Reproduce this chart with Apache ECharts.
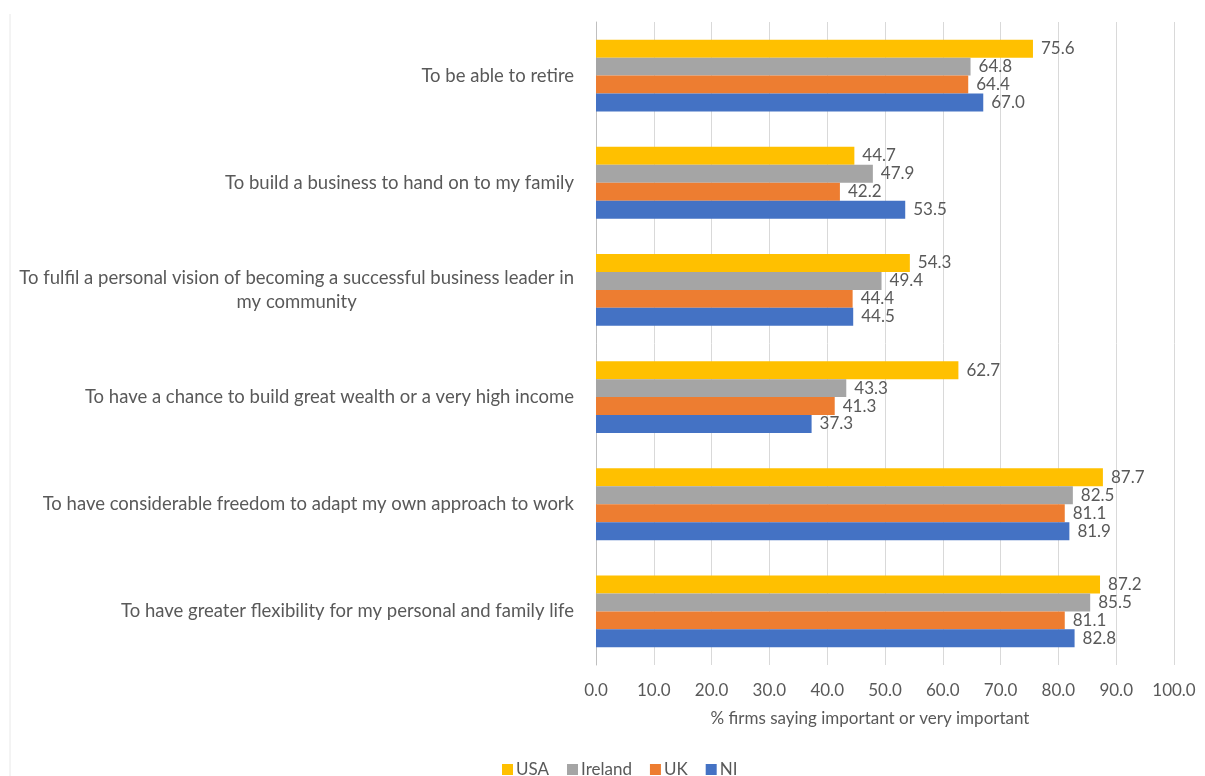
<!DOCTYPE html>
<html>
<head>
<meta charset="utf-8">
<script src="https://cdn.jsdelivr.net/npm/echarts@6/dist/echarts.min.js"></script>
<style>html,body{margin:0;padding:0;background:#fff}#c{width:1205px;height:776px}</style>
</head>
<body>
<div id="c"></div>
<script>
const categories = [
  "To be able to retire",
  "To build a business to hand on to my family",
  "To fulfil a personal vision of becoming a successful business leader in\nmy community",
  "To have a chance to build great wealth or a very high income",
  "To have considerable freedom to adapt my own approach to work",
  "To have greater flexibility for my personal and family life"
];
const seriesNames = ["USA", "Ireland", "UK", "NI"];
const usa     = [75.6, 44.7, 54.3, 62.7, 87.7, 87.2];
const ireland = [64.8, 47.9, 49.4, 43.3, 82.5, 85.5];
const uk      = [64.4, 42.2, 44.4, 41.3, 81.1, 81.1];
const ni      = [67.0, 53.5, 44.5, 37.3, 81.9, 82.8];
const xTicks = [0, 10, 20, 30, 40, 50, 60, 70, 80, 90, 100];
const axisTitle = "% firms saying important or very important";

const colors = ["#FFC000", "#A5A5A5", "#ED7D31", "#4472C4"];
const txt = "#595959";
const FONT = "Lato";

const chart = echarts.init(document.getElementById('c'));
const data = [usa, ireland, uk, ni];
const series = seriesNames.map((n, i) => ({
  name: n,
  type: 'bar',
  data: data[i],
  barGap: '0%',
  barCategoryGap: '33%',
  itemStyle: { color: colors[i] },
  label: {
    show: true, position: 'right', distance: 8,
    color: txt, fontFamily: FONT, fontSize: 17,
    formatter: p => p.value.toFixed(1)
  }
}));

chart.setOption({
  animation: false,
  textStyle: { fontFamily: FONT },
  grid: { left: 596, right: 31, top: 22, bottom: 111, containLabel: false },
  legend: {
    data: seriesNames,
    top: 756, left: 497,
    icon: 'rect', itemWidth: 11, itemHeight: 11, itemGap: 18,
    textStyle: { color: txt, fontSize: 17, fontFamily: FONT, padding: [0, 0, 0, -2] }
  },
  xAxis: {
    type: 'value', min: 0, max: 100, interval: 10,
    axisLine: { show: false }, axisTick: { show: false },
    splitLine: { lineStyle: { color: '#D9D9D9', width: 1 } },
    axisLabel: { color: txt, fontSize: 17, fontFamily: FONT, margin: 17,
      formatter: v => xTicks.indexOf(v) >= 0 ? v.toFixed(1) : '' },
    name: axisTitle, nameLocation: 'middle', nameGap: 45,
    nameTextStyle: { color: txt, fontSize: 17, fontFamily: FONT, padding: [0, 30, 0, 0] }
  },
  yAxis: {
    type: 'category', data: categories, inverse: true,
    axisLine: { show: true, lineStyle: { color: '#BFBFBF' } },
    axisTick: { show: false },
    axisLabel: {
      color: txt, fontSize: 18.5, fontFamily: FONT, margin: 22, align: 'right',
      formatter: v => v.split('\n').map(s => '{c|' + s + '}').join('\n'),
      rich: { c: { align: 'center', color: txt, fontSize: 18.5, fontFamily: FONT, lineHeight: 24 } }
    }
  },
  graphic: [{ type: 'line', shape: { x1: 10, y1: 14, x2: 10, y2: 776 }, style: { stroke: '#E8E8E8', lineWidth: 1 } }],
  series: series
});
</script>
</body>
</html>
